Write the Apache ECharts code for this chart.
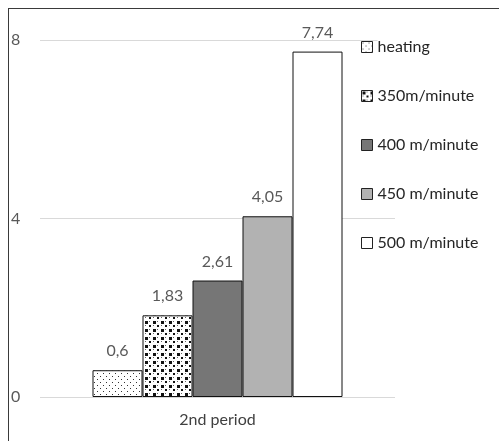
<!DOCTYPE html>
<html><head><meta charset="utf-8">
<script src="https://cdn.jsdelivr.net/npm/echarts@6/dist/echarts.min.js"></script>
<style>html,body{margin:0;padding:0;background:#fff}#c{width:499px;height:441px}</style>
</head><body><div id="c"></div>
<script>
const categories = ['2nd period'];
const seriesNames = ['heating', '350m/minute', '400 m/minute', '450 m/minute', '500 m/minute'];
const seriesValues = [[0.6], [1.83], [2.61], [4.05], [7.74]];
const yTicks = [0, 4, 8];

function makePattern(size, draw) {
  const cv = document.createElement('canvas');
  cv.width = size; cv.height = size;
  const ctx = cv.getContext('2d');
  ctx.fillStyle = '#fff'; ctx.fillRect(0, 0, size, size);
  draw(ctx);
  return { image: cv, repeat: 'repeat' };
}
const dotPattern = makePattern(6, ctx => {
  ctx.fillStyle = '#333';
  ctx.fillRect(1, 1, 1, 1);
  ctx.fillRect(4, 4, 1, 1);
});
const checkPattern = makePattern(8, ctx => {
  ctx.fillStyle = '#111';
  ctx.fillRect(1, 1, 3, 3);
  ctx.fillRect(5, 5, 2, 2);
  ctx.fillStyle = '#666';
  ctx.fillRect(5, 1, 1, 1);
  ctx.fillRect(1, 5, 1, 1);
});
const fills = [dotPattern, checkPattern, '#767676', '#b2b2b2', '#ffffff'];

const chart = echarts.init(document.getElementById('c'), null, { renderer: 'canvas' });
chart.setOption({
  backgroundColor: '#fff',
  animation: false,
  textStyle: { fontFamily: 'Lato' },
  grid: { left: 40, right: 104, top: 40, bottom: 44 },
  legend: {
    orient: 'vertical',
    left: 356, top: 32,
    itemWidth: 11, itemHeight: 11,
    itemGap: 29,
    icon: 'rect',
    itemStyle: { borderColor: '#222', borderWidth: 1 },
    textStyle: { fontSize: 16, color: '#262626', fontFamily: 'Lato', backgroundColor: '#fff', padding: [2, 20, 2, 0], lineHeight: 16 },
    data: seriesNames
  },
  xAxis: {
    type: 'category', data: categories,
    axisLine: { show: false }, axisTick: { show: false },
    axisLabel: { fontSize: 16, color: '#404040', margin: 15 }
  },
  yAxis: {
    type: 'value', min: 0, max: 8, interval: 4,
    axisLine: { show: false }, axisTick: { show: false },
    splitLine: { lineStyle: { color: '#d9d9d9', width: 1 } },
    axisLabel: { fontSize: 16, color: '#595959', align: 'left', margin: 29,
      formatter: v => yTicks.includes(v) ? String(v) : '' }
  },
  graphic: [
    { type: 'line', shape: { x1: 8, y1: 8.5, x2: 499, y2: 8.5 }, style: { stroke: '#3a3a3a', lineWidth: 1 }, z: 100 },
    { type: 'line', shape: { x1: 8.5, y1: 8, x2: 8.5, y2: 441 }, style: { stroke: '#3a3a3a', lineWidth: 1 }, z: 100 }
  ],
  series: seriesNames.map((n, i) => ({
    name: n, type: 'bar', data: seriesValues[i],
    barWidth: 50, barGap: '0%',
    itemStyle: { color: fills[i], borderColor: '#111', borderWidth: 1 },
    label: { show: true, position: 'top', distance: 11, fontSize: 16, color: '#595959',
      formatter: p => String(p.value).replace('.', ',') }
  }))
});
</script></body></html>
